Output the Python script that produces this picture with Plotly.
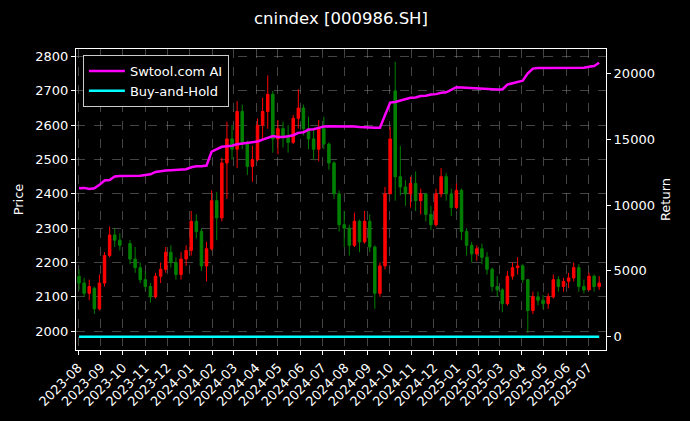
import pandas as pd
import plotly.graph_objects as go

# Weekly candles (centre dates), price values
week_start = "2023-08-02"
n_weeks = 103
skip_weeks = [9]  # National-day holiday week, no bars drawn

opens = [2160, 2140, 2110, 2125, 2065, 2140, 2220, 2280, 2265,
         2255, 2210, 2185, 2150, 2130, 2100, 2160, 2180, 2230, 2200,
         2165, 2210, 2235, 2320, 2290, 2190, 2240, 2380, 2330, 2490,
         2560, 2530, 2640, 2550, 2480, 2500, 2600, 2640, 2690, 2560,
         2590, 2570, 2550, 2620, 2650, 2590, 2560, 2530, 2590, 2545,
         2490, 2400, 2310, 2300, 2250, 2320, 2260, 2320, 2245, 2110,
         2190, 2400, 2700, 2450, 2420, 2400, 2430, 2380, 2400, 2340,
         2310, 2400, 2450, 2400, 2360, 2410, 2290, 2250, 2225, 2240,
         2215, 2180, 2130, 2120, 2080, 2160, 2185, 2190, 2150, 2060,
         2100, 2090, 2080, 2100, 2150, 2130, 2145, 2155, 2185, 2130,
         2120, 2160, 2130]
highs = [2180, 2155, 2150, 2130, 2165, 2230, 2305, 2300, 2285,
         2265, 2245, 2200, 2175, 2140, 2170, 2200, 2245, 2250, 2215,
         2230, 2250, 2350, 2340, 2300, 2260, 2410, 2405, 2505, 2610,
         2600, 2670, 2660, 2555, 2540, 2620, 2680, 2745, 2700, 2615,
         2610, 2600, 2630, 2705, 2660, 2625, 2590, 2615, 2625, 2550,
         2495, 2410, 2350, 2310, 2345, 2325, 2350, 2340, 2250, 2200,
         2420, 2595, 2785, 2540, 2440, 2450, 2465, 2415, 2400, 2365,
         2415, 2475, 2460, 2415, 2430, 2415, 2300, 2260, 2250, 2255,
         2230, 2185, 2160, 2125, 2175, 2200, 2215, 2195, 2150, 2115,
         2115, 2105, 2110, 2165, 2160, 2155, 2170, 2200, 2195, 2150,
         2170, 2165, 2160]
lows = [2120, 2100, 2090, 2050, 2060, 2130, 2215, 2245, 2235,
        2195, 2170, 2140, 2120, 2083, 2095, 2140, 2170, 2185, 2150,
        2150, 2190, 2220, 2270, 2175, 2145, 2235, 2265, 2320, 2385,
        2500, 2475, 2530, 2455, 2435, 2495, 2560, 2590, 2520, 2515,
        2535, 2520, 2545, 2590, 2570, 2530, 2500, 2495, 2530, 2470,
        2385, 2290, 2245, 2220, 2245, 2230, 2255, 2230, 2065, 2100,
        2180, 2400, 2380, 2395, 2365, 2360, 2350, 2340, 2320, 2295,
        2305, 2390, 2380, 2335, 2355, 2265, 2220, 2200, 2205, 2195,
        2165, 2115, 2100, 2055, 2075, 2150, 2165, 2140, 1995, 2050,
        2075, 2065, 2065, 2095, 2115, 2115, 2125, 2145, 2115, 2110,
        2120, 2115, 2120]
closes = [2140, 2110, 2130, 2065, 2140, 2220, 2280, 2265, 2250,
          2210, 2185, 2150, 2130, 2100, 2160, 2180, 2230, 2200, 2165,
          2210, 2235, 2320, 2290, 2190, 2240, 2380, 2330, 2490, 2560,
          2530, 2640, 2550, 2480, 2500, 2600, 2640, 2690, 2560, 2590,
          2570, 2550, 2620, 2650, 2590, 2560, 2530, 2590, 2545, 2490,
          2400, 2310, 2300, 2250, 2320, 2260, 2320, 2245, 2110, 2190,
          2400, 2560, 2450, 2420, 2400, 2430, 2380, 2400, 2340, 2310,
          2400, 2450, 2400, 2360, 2410, 2290, 2250, 2225, 2240, 2215,
          2180, 2130, 2120, 2080, 2160, 2185, 2190, 2150, 2060, 2100,
          2090, 2080, 2100, 2150, 2130, 2145, 2155, 2185, 2130, 2120,
          2160, 2130, 2140]

# Strategy return (right axis), one value per candle date
swtool_return = [11280, 11300, 11220, 11270, 11530, 11860, 11900, 12160, 12210,
                 12210, 12210, 12230, 12280, 12330, 12510, 12590, 12620, 12640, 12670,
                 12690, 12720, 12870, 12950, 12950, 13000, 14050, 14250, 14420, 14470,
                 14500, 14620, 14680, 14720, 14790, 14820, 14970, 15130, 15230, 15160,
                 15160, 15220, 15300, 15480, 15520, 15730, 15760, 15860, 15960, 15990,
                 15990, 15990, 15990, 15990, 15970, 15930, 15900, 15860, 15860, 15860,
                 16800, 17780, 17820, 17920, 18030, 18140, 18160, 18270, 18300, 18390,
                 18420, 18520, 18560, 18770, 18950, 18930, 18900, 18880, 18850, 18830,
                 18800, 18770, 18770, 18780, 19150, 19250, 19350, 19440, 20000, 20360,
                 20410, 20410, 20410, 20410, 20410, 20410, 20410, 20410, 20410, 20430,
                 20500, 20560, 20800]
buy_hold_return = [0] * len(swtool_return)

price_ticks = [2000, 2100, 2200, 2300, 2400, 2500, 2600, 2700, 2800]
return_ticks = [0, 5000, 10000, 15000, 20000]

all_dates = pd.date_range(week_start, periods=n_weeks, freq="7D")
dates = [d for i, d in enumerate(all_dates) if i not in skip_weeks]

FONT = "DejaVu Sans"
WHITE = "#ffffff"
GRID = "rgba(150,150,150,0.45)"

fig = go.Figure()
fig.add_trace(go.Candlestick(
    x=dates, open=opens, high=highs, low=lows, close=closes,
    increasing=dict(line=dict(color="#ff0000", width=1), fillcolor="#ff0000"),
    decreasing=dict(line=dict(color="#008000", width=1), fillcolor="#008000"),
    whiskerwidth=0, showlegend=False, yaxis="y", hoverinfo="skip"))
fig.add_trace(go.Scatter(
    x=dates, y=swtool_return, mode="lines", name="Swtool.com AI",
    line=dict(color="#ff00ff", width=2.5), yaxis="y2"))
fig.add_trace(go.Scatter(
    x=dates, y=buy_hold_return, mode="lines", name="Buy-and-Hold",
    line=dict(color="#00ffff", width=2.5), yaxis="y2"))

axis_common = dict(showline=True, linecolor=WHITE, linewidth=1, ticks="outside",
                   ticklen=4, tickwidth=1, tickcolor=WHITE, automargin=False,
                   tickfont=dict(family=FONT, size=13, color=WHITE), zeroline=False)

fig.update_layout(
    width=690, height=421,
    paper_bgcolor="#000000", plot_bgcolor="#000000",
    margin=dict(l=76, r=84, t=49, b=71, autoexpand=False),
    boxgap=0.3, boxgroupgap=0.3,
    font=dict(family=FONT, size=13, color=WHITE),
    title=dict(text="cnindex [000986.SH]", x=0.5, xref="paper", xanchor="center",
               y=1 - 18 / 421, yref="container", yanchor="middle",
               font=dict(family=FONT, size=16.5, color=WHITE)),
    xaxis=dict(axis_common, type="date", range=["2023-07-28 20:00", "2025-07-25 08:00"],
               dtick="M1", tick0="2023-08-01", tickformat="%Y-%m", tickangle=-45,
               showgrid=True, gridcolor=GRID, griddash="dash", gridwidth=0.6,
               mirror=True, rangeslider=dict(visible=False)),
    yaxis=dict(axis_common, range=[1945, 2822], tickvals=price_ticks, tickformat="d",
               showgrid=True, gridcolor=GRID, griddash="dash", gridwidth=0.6,
               title=dict(text="Price", standoff=8, font=dict(family=FONT, size=13, color=WHITE))),
    yaxis2=dict(axis_common, range=[-1010, 21847], tickvals=return_ticks, tickformat="d",
                overlaying="y", side="right", showgrid=False,
                title=dict(text="Return", standoff=6, font=dict(family=FONT, size=13, color=WHITE))),
    legend=dict(x=0.013, y=0.98, xanchor="left", yanchor="top", itemwidth=36,
                bgcolor="#000000", bordercolor="#cccccc", borderwidth=1,
                font=dict(family=FONT, size=13, color=WHITE), tracegroupgap=0),
    showlegend=True,
)

fig.write_html("out.html", config={"displayModeBar": False},
               post_script="document.body.style.margin='0';document.body.style.background='#000';")
